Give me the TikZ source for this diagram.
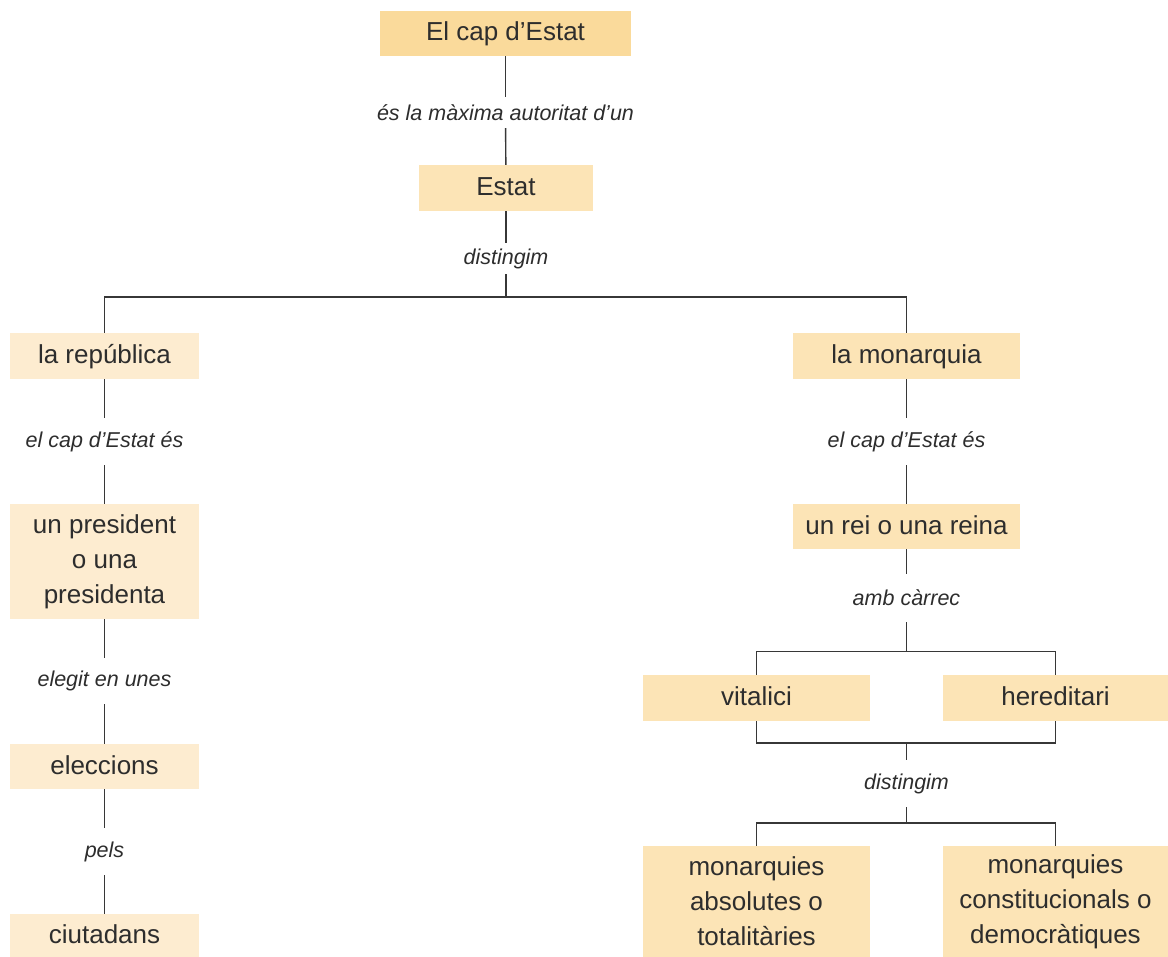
\documentclass[tikz,border=0pt]{standalone}
\usepackage{fontspec}
\setmainfont{Liberation Sans}
\definecolor{txt}{RGB}{45,45,45}
\definecolor{ln}{RGB}{55,55,55}
\definecolor{fA}{RGB}{250,218,155}
\definecolor{fB}{RGB}{252,228,182}
\definecolor{fC}{RGB}{253,236,208}
\begin{document}
\begin{tikzpicture}[x=1pt,y=-1pt,
  box/.style={inner sep=0pt, align=center, text=txt, font=\fontsize{26}{35}\selectfont},
  sbox/.style={box, text height=19pt, text depth=4pt},
  lab/.style={inner sep=0pt, text=txt, font=\fontsize{21.5}{24}\selectfont\itshape, minimum height=47pt},
  labs/.style={lab, minimum height=31pt},
  conn/.style={draw=ln, line width=1.4pt}]
\useasboundingbox (0,0) rectangle (1168,957);

% boxes
\node[sbox, fill=fA, minimum width=251pt, minimum height=45pt] (cap) at (505.5,33.5) {El cap d’Estat};
\node[sbox, fill=fB, minimum width=174pt, minimum height=46pt] (estat) at (506,188) {Estat};
\node[sbox, fill=fC, minimum width=189pt, minimum height=46pt] (rep) at (104.5,356) {la república};
\node[sbox, fill=fB, minimum width=227pt, minimum height=46pt] (mon) at (906.5,356) {la monarquia};
\node[box, fill=fC, minimum width=189pt, minimum height=115pt] (pres) at (104.5,561.5) {un president\\o una\\presidenta};
\node[sbox, fill=fB, minimum width=227pt, minimum height=45pt] (rei) at (906.5,526.5) {un rei o una reina};
\node[sbox, fill=fB, minimum width=227pt, minimum height=46pt] (vit) at (756.5,698) {vitalici};
\node[sbox, fill=fB, minimum width=225pt, minimum height=46pt] (her) at (1055.5,698) {hereditari};
\node[box, fill=fB, minimum width=227pt, minimum height=111pt] (abs) at (756.5,901.5) {monarquies\\absolutes o\\totalitàries};
\node[box, fill=fB, minimum width=225pt, minimum height=111pt] (con) at (1055.5,901.5) {monarquies\\constitucionals o\\democràtiques};
\node[sbox, fill=fC, minimum width=189pt, minimum height=45pt] (elec) at (104.5,766.5) {eleccions};
\node[sbox, fill=fC, minimum width=189pt, minimum height=43pt] (ciu) at (104.5,935.5) {ciutadans};

% labels
\node[labs] (l1) at (505.5,112.5) {és la màxima autoritat d’un};
\node[labs] (l2) at (506,258.5) {distingim};
\node[lab] (l3) at (104.5,441.5) {el cap d’Estat és};
\node[lab] (l4) at (906.5,441.5) {el cap d’Estat és};
\node[lab, minimum height=46pt] (l5) at (104.5,681) {elegit en unes};
\node[lab, minimum height=48pt] (l6) at (906.5,598) {amb càrrec};
\node[lab] (l7) at (906.5,783.5) {distingim};
\node[lab] (l8) at (104.5,851.5) {pels};

% junctions
\coordinate (j1) at (506,297);
\coordinate (j2) at (906.5,651.5);
\coordinate (j3) at (906.5,743);
\coordinate (j4) at (906.5,823);

% connectors
\draw[conn] (cap) -- (l1);
\draw[conn] (l1) -- (estat);
\draw[conn] (estat) -- (l2);
\draw[conn] (l2) -- (j1);
\draw[conn] (rep.north) |- (j1) -| (mon.north);
\draw[conn] (rep) -- (l3);
\draw[conn] (l3) -- (pres);
\draw[conn] (pres) -- (l5);
\draw[conn] (l5) -- (elec);
\draw[conn] (elec) -- (l8);
\draw[conn] (l8) -- (ciu);
\draw[conn] (mon) -- (l4);
\draw[conn] (l4) -- (rei);
\draw[conn] (rei) -- (l6);
\draw[conn] (l6) -- (j2);
\draw[conn] (vit.north) |- (j2) -| (her.north);
\draw[conn] (vit.south) |- (j3) -| (her.south);
\draw[conn] (j3) -- (l7);
\draw[conn] (l7) -- (j4);
\draw[conn] (abs.north) |- (j4) -| (con.north);
\end{tikzpicture}
\end{document}
